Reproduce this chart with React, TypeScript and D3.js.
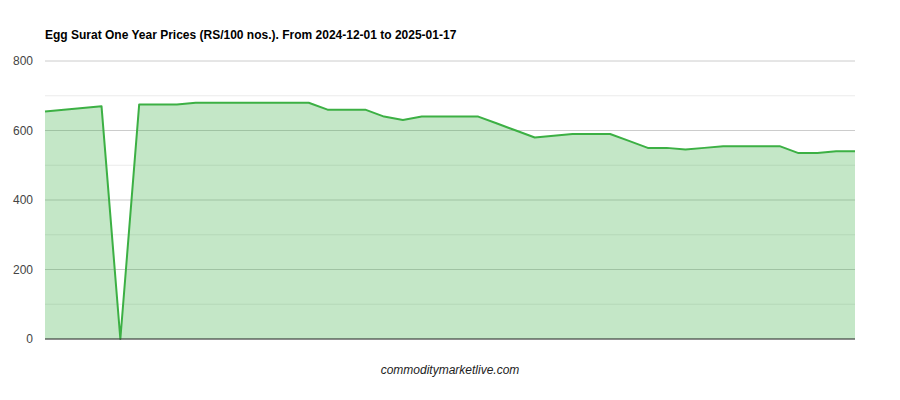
import React from 'react';
import * as d3 from 'd3';

// prices RS/100 nos. (44 points)
const prices = [
  655, 660, 665, 670, 0, 675, 675, 675, 680, 680, 680, 680, 680, 680, 680,
  660, 660, 660, 640, 630, 640, 640, 640, 640, 620, 600, 580, 585, 590, 590,
  590, 570, 550, 550, 545, 550, 555, 555, 555, 555, 535, 535, 540, 540,
];
const yTicks = [0, 200, 400, 600, 800];
const yMinor = [100, 300, 500, 700];

const title = 'Egg Surat One Year Prices (RS/100 nos.). From 2024-12-01 to 2025-01-17';

const width = 900;
const height = 400;
const margin = { top: 61, right: 45, bottom: 61, left: 45 };

const App: React.FC = () => {
  const x = d3.scaleLinear()
    .domain([0, prices.length - 1])
    .range([margin.left, width - margin.right]);
  const y = d3.scaleLinear()
    .domain([0, 800])
    .range([height - margin.bottom, margin.top]);

  const area = d3.area<number>()
    .x((_, i) => x(i))
    .y0(y(0))
    .y1(d => y(d));
  const line = d3.line<number>()
    .x((_, i) => x(i))
    .y(d => y(d));

  return (
    <svg width={width} height={height} style={{ display: 'block', margin: -8, fontFamily: 'Arial, "Liberation Sans", sans-serif' }}>
      <rect width={width} height={height} fill="#fff" />
      <text x={45} y={39} fontSize={12} fontWeight="bold" fill="#000">{title}</text>

      {yMinor.map(t => (
        <line key={'m' + t} x1={margin.left} x2={width - margin.right} y1={y(t)} y2={y(t)} stroke="#ebebeb" />
      ))}
      {yTicks.map(t => (
        <line key={'g' + t} x1={margin.left} x2={width - margin.right} y1={y(t)} y2={y(t)} stroke="#cccccc" />
      ))}

      <path d={area(prices) || ''} fill="#3cb044" fillOpacity={0.3} />
      <path d={line(prices) || ''} fill="none" stroke="#3cb044" strokeWidth={2} strokeLinejoin="round" />

      <line x1={margin.left} x2={width - margin.right} y1={y(0)} y2={y(0)} stroke="#333" />

      {yTicks.map(t => (
        <text key={'t' + t} x={33} y={y(t) + 4} fontSize={12} fill="#444" textAnchor="end">{t}</text>
      ))}

      <text x={450} y={374} fontSize={12} fontStyle="italic" fill="#222" textAnchor="middle">commoditymarketlive.com</text>
    </svg>
  );
};

export default App;
